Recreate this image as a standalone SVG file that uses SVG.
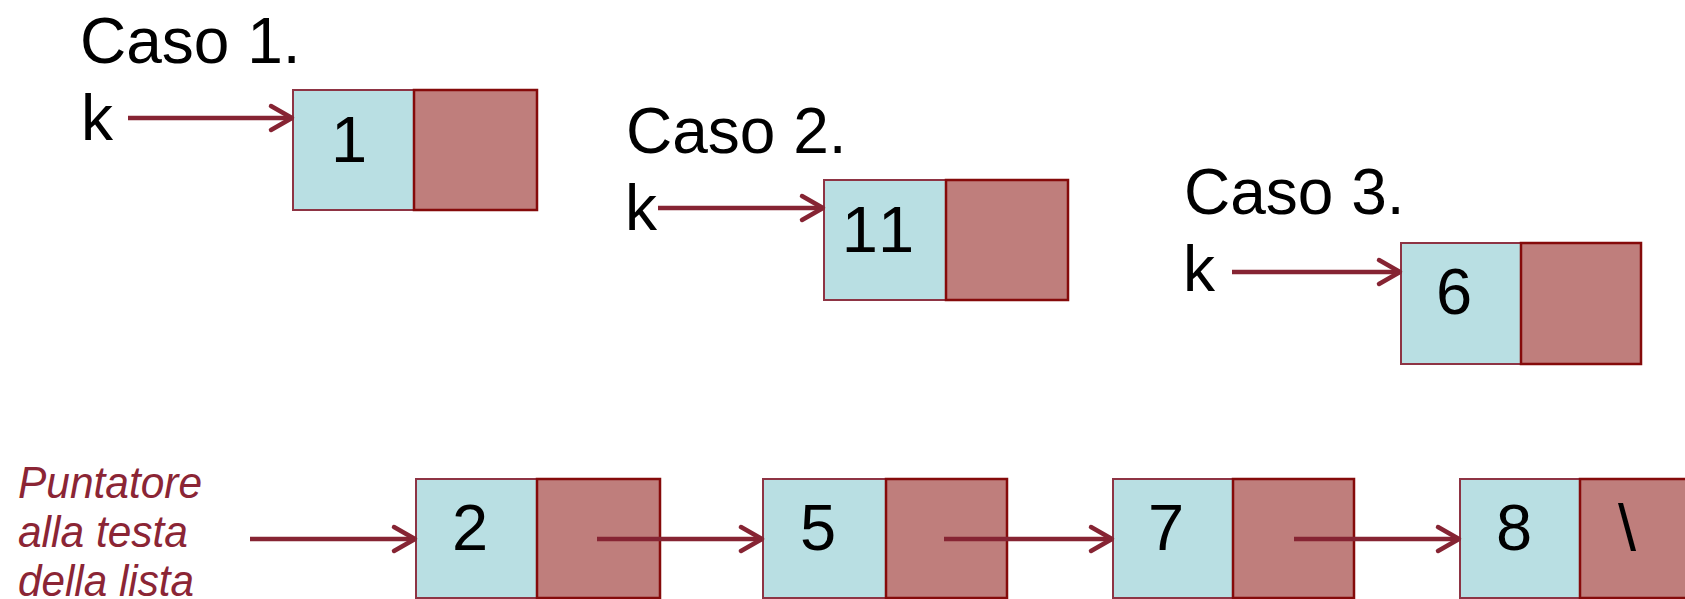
<svg xmlns="http://www.w3.org/2000/svg" width="1685" height="599" viewBox="0 0 1685 599">
<style>
.bg{fill:#ffffff}
.val{fill:#B9DFE3;stroke:#8E3444;stroke-width:2}
.ptr{fill:#BF7E7C;stroke:#850A0A;stroke-width:2.5}
.t{font-family:"Liberation Sans",Arial,sans-serif;fill:#000;font-kerning:none}
.cap{font-size:64px}
.num{font-size:65px;text-anchor:middle}
.lbl{font-family:"Liberation Sans",Arial,sans-serif;font-style:italic;font-size:45px;fill:#8B2535}
.ln{stroke:#862433;stroke-width:4.5;fill:none;stroke-linecap:butt}
.hd{stroke:#862433;stroke-width:4.5;fill:none;stroke-linecap:round;stroke-linejoin:round}
</style>
<rect class="bg" x="0" y="0" width="1685" height="599"/>

<g id="labels">
<text class="t cap" x="80" y="63">Caso 1.</text>
<text class="t cap" x="81" y="140">k</text>
<text class="t cap" x="626" y="153">Caso 2.</text>
<text class="t cap" x="625" y="230">k</text>
<text class="t cap" x="1184" y="214">Caso 3.</text>
<text class="t cap" x="1183" y="291">k</text>
<text class="lbl" x="18" y="498" textLength="184" lengthAdjust="spacingAndGlyphs">Puntatore</text>
<text class="lbl" x="18" y="547" textLength="170" lengthAdjust="spacingAndGlyphs">alla testa</text>
<text class="lbl" x="18" y="596" textLength="176" lengthAdjust="spacingAndGlyphs">della lista</text>
</g>

<g id="node-case1">
<rect class="val" x="293" y="90" width="121" height="120"/>
<rect class="ptr" x="414" y="90" width="123" height="120"/>
<text class="t num" x="349" y="162">1</text>
</g>
<g id="node-case2">
<rect class="val" x="824" y="180" width="122" height="120"/>
<rect class="ptr" x="946" y="180" width="122" height="120"/>
<text class="t num" x="878" y="252">11</text>
</g>
<g id="node-case3">
<rect class="val" x="1401" y="243" width="120" height="121"/>
<rect class="ptr" x="1521" y="243" width="120" height="121"/>
<text class="t num" x="1454" y="314">6</text>
</g>

<g id="node-2">
<rect class="val" x="416" y="479" width="121" height="119"/>
<rect class="ptr" x="537" y="479" width="123" height="119"/>
<text class="t num" x="470" y="550">2</text>
</g>
<g id="node-5">
<rect class="val" x="763" y="479" width="123" height="119"/>
<rect class="ptr" x="886" y="479" width="121" height="119"/>
<text class="t num" x="818" y="550">5</text>
</g>
<g id="node-7">
<rect class="val" x="1113" y="479" width="120" height="119"/>
<rect class="ptr" x="1233" y="479" width="121" height="119"/>
<text class="t num" x="1166" y="550">7</text>
</g>
<g id="node-8">
<rect class="val" x="1460" y="479" width="120" height="119"/>
<rect class="ptr" x="1580" y="479" width="122" height="119"/>
<text class="t num" x="1514" y="550">8</text>
<text class="t num" x="1627" y="550">\</text>
</g>

<g id="connectors">
<line class="ln" x1="128" y1="118" x2="291" y2="118"/>
<polyline class="hd" points="271,106 292,118 271,130"/>
<line class="ln" x1="658" y1="208" x2="822" y2="208"/>
<polyline class="hd" points="802,196 823,208 802,220"/>
<line class="ln" x1="1232" y1="272" x2="1399" y2="272"/>
<polyline class="hd" points="1379,260 1400,272 1379,284"/>
<line class="ln" x1="250" y1="539" x2="414" y2="539"/>
<polyline class="hd" points="394,527 415,539 394,551"/>
<line class="ln" x1="597" y1="539" x2="761" y2="539"/>
<polyline class="hd" points="741,527 762,539 741,551"/>
<line class="ln" x1="944" y1="539" x2="1111" y2="539"/>
<polyline class="hd" points="1091,527 1112,539 1091,551"/>
<line class="ln" x1="1294" y1="539" x2="1458" y2="539"/>
<polyline class="hd" points="1438,527 1459,539 1438,551"/>
</g>
</svg>
